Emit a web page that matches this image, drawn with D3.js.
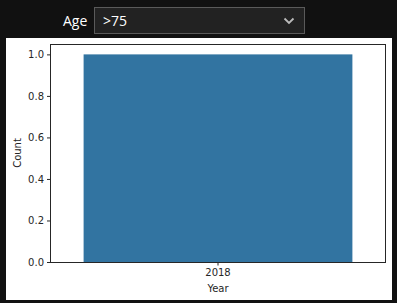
<!DOCTYPE html>
<html>
<head>
<meta charset="utf-8">
<script src="https://cdn.jsdelivr.net/npm/d3@7"></script>
<style>
  body { margin: 0; background: #111111; width: 397px; height: 303px; overflow: hidden; font-family: "DejaVu Sans", sans-serif; }
  #wrap { position: relative; width: 397px; height: 303px; }
  .lbl { position: absolute; left: 63px; top: 11px; color: #fff; font-size: 14px; font-family: "Segoe UI", "Open Sans", sans-serif; }
  .sel { position: absolute; left: 94px; top: 7px; width: 209px; height: 25px; background: #222; border: 1px solid #5a5a5a; color: #fff; font-size: 14px; font-family: "Segoe UI", "Open Sans", sans-serif; }
  .sel span { position: absolute; left: 8px; top: 3px; }
  .sel svg { position: absolute; right: 9px; top: 9px; }
  #chart { position: absolute; left: 6px; top: 38px; }
</style>
</head>
<body>
<div id="wrap">
  <div class="lbl">Age</div>
  <div class="sel"><span>&gt;75</span>
    <svg width="12" height="8"><path d="M1.5,1.5 L6,6 L10.5,1.5" fill="none" stroke="#bbb" stroke-width="1.8"/></svg>
  </div>
  <div id="chart"></div>
</div>
<script>
// data
const years = ["2018"];
const counts = [1.0];
const yTicks = [0.0, 0.2, 0.4, 0.6, 0.8, 1.0];

const FRAME_WIDTH = 386;
const FRAME_HEIGHT = 262;
const MARGINS = {left: 44, right: 6, top: 6, bottom: 38};

const svg = d3.select('#chart')
  .append('svg')
  .attr('width', FRAME_WIDTH)
  .attr('height', FRAME_HEIGHT)
  .style('background', '#fff');

const x = d3.scaleBand()
  .domain(years)
  .range([MARGINS.left, FRAME_WIDTH - MARGINS.right])
  .paddingInner(0.2)
  .paddingOuter(0.1);

const y = d3.scaleLinear()
  .domain([0, 1.05])
  .range([FRAME_HEIGHT - MARGINS.bottom, MARGINS.top]);

// bars
svg.selectAll('rect.bar')
  .data(years)
  .join('rect')
  .attr('class', 'bar')
  .attr('x', d => x(d))
  .attr('width', x.bandwidth())
  .attr('y', (d, i) => y(counts[i]))
  .attr('height', (d, i) => y(0) - y(counts[i]))
  .attr('fill', '#3274a1');

// frame
svg.append('rect')
  .attr('x', MARGINS.left + 0.5)
  .attr('y', MARGINS.top + 0.5)
  .attr('width', FRAME_WIDTH - MARGINS.left - MARGINS.right - 1)
  .attr('height', FRAME_HEIGHT - MARGINS.top - MARGINS.bottom)
  .attr('fill', 'none')
  .attr('stroke', '#262626')
  .attr('stroke-width', 1);

// axes
const yAxis = svg.append('g')
  .attr('transform', `translate(${MARGINS.left + 0.5},0)`)
  .call(d3.axisLeft(y).tickValues(yTicks).tickFormat(d3.format('.1f')).tickSize(3.5).tickPadding(3));

const xAxis = svg.append('g')
  .attr('transform', `translate(0,${FRAME_HEIGHT - MARGINS.bottom})`)
  .call(d3.axisBottom(x).tickSize(3.5).tickPadding(3));

[yAxis, xAxis].forEach(a => {
  a.select('.domain').remove();
  a.selectAll('line').attr('stroke', '#262626');
  a.selectAll('text').attr('fill', '#262626').style('font-size', '10px').style('font-family', '"DejaVu Sans", sans-serif');
});

// axis labels
svg.append('text')
  .attr('x', (MARGINS.left + FRAME_WIDTH - MARGINS.right) / 2)
  .attr('y', FRAME_HEIGHT - 8)
  .attr('text-anchor', 'middle')
  .attr('fill', '#262626')
  .style('font-size', '10px')
  .text('Year');

svg.append('text')
  .attr('transform', `translate(15,${(MARGINS.top + FRAME_HEIGHT - MARGINS.bottom) / 2}) rotate(-90)`)
  .attr('text-anchor', 'middle')
  .attr('fill', '#262626')
  .style('font-size', '10px')
  .text('Count');
</script>
</body>
</html>
